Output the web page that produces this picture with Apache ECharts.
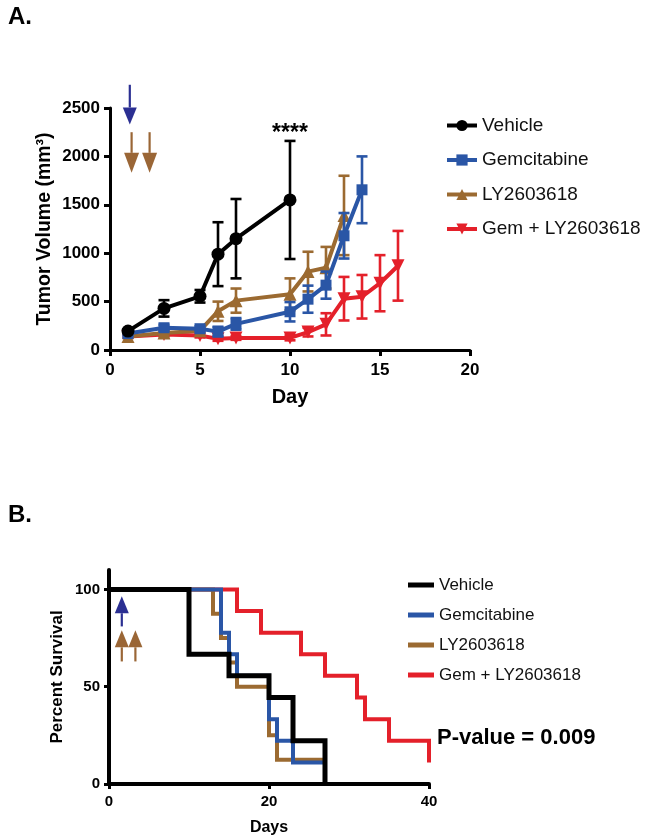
<!DOCTYPE html>
<html><head><meta charset="utf-8">
<script src="https://cdn.jsdelivr.net/npm/echarts@6/dist/echarts.min.js"></script>
<style>html,body{margin:0;padding:0;background:#fff}#c{width:648px;height:840px}</style>
</head><body><div id="c"></div>
<script>
// ---------- data ----------
const groups = ['Vehicle', 'Gemcitabine', 'LY2603618', 'Gem + LY2603618'];
const colors = ['#000000', '#2a56a6', '#9b6a31', '#e4202a'];

// Panel A: tumor volume (mean, SEM)
const vehicleDays = [1, 3, 5, 6, 7, 10];
const vehicleMean = [195, 430, 555, 990, 1150, 1550];
const vehicleSem  = [20, 85, 65, 330, 410, 610];

const gemDays = [1, 3, 5, 6, 7, 10, 11, 12, 13, 14];
const gemMean = [170, 230, 220, 190, 270, 395, 525, 670, 1180, 1655];
const gemSem  = [20, 30, 25, 50, 60, 100, 140, 140, 235, 345];

const lyDays = [1, 3, 5, 6, 7, 10, 11, 12, 13];
const lyMean = [140, 175, 200, 400, 510, 575, 810, 850, 1390];
const lySem  = [15, 25, 20, 100, 125, 165, 205, 215, 410];

const comboDays = [1, 3, 5, 6, 7, 10, 11, 12, 13, 14, 15, 16];
const comboMean = [140, 160, 150, 115, 125, 125, 185, 265, 530, 550, 690, 870];
const comboSem  = [15, 20, 20, 20, 20, 25, 45, 115, 225, 225, 290, 360];

// Panel B: Kaplan-Meier survival
const survVehicleDays = [0, 10, 15, 20, 23, 27];
const survVehicle     = [100, 66.7, 55.6, 44.4, 22.2, 0];
const survGemDays = [0, 14, 15, 16, 20, 21, 23, 27];
const survGem     = [100, 77.8, 66.7, 55.6, 33.3, 22.2, 11.1, 11.1];
const survLyDays = [0, 13, 14, 15, 16, 20, 21, 27];
const survLy     = [100, 87.5, 75, 62.5, 50, 25, 12.5, 12.5];
const survComboDays = [0, 16, 19, 24, 27, 31, 32, 35, 40];
const survCombo     = [100, 88.9, 77.8, 66.7, 55.6, 44.4, 33.3, 22.2, 11.1];

// ticks
const volumeTicks = [0, 500, 1000, 1500, 2000, 2500];
const dayTicks = [0, 5, 10, 15, 20];
const survivalTicks = [0, 50, 100];
const survDayTicks = [0, 20, 40];

// dosing arrows (data units)
const arrowsA = [
  {x: 1.1, from: 2740, to: 2330, c: '#2b2f92'},
  {x: 1.2, from: 2250, to: 1830, c: '#9a6636'},
  {x: 2.2, from: 2250, to: 1830, c: '#9a6636'}
];
const arrowsB = [
  {x: 1.6, from: 81, to: 96.5, c: '#2b2f92'},
  {x: 1.6, from: 63, to: 79, c: '#9a6636'},
  {x: 3.3, from: 63, to: 79, c: '#9a6636'}
];

// ---------- chart ----------
const FONT = 'Liberation Sans, Arial, Helvetica, sans-serif';
const chart = echarts.init(document.getElementById('c'), null, {renderer: 'canvas'});

const zip = (a, b) => a.map((v, i) => [v, b[i]]);
const errData = (d, m, s) => d.map((v, i) => [v, m[i] - s[i], m[i] + s[i]]);
const plain = v => String(v);

function errRender(color) {
  return function (params, api) {
    const x = api.value(0), lo = api.value(1), hi = api.value(2);
    const p1 = api.coord([x, hi]), p2 = api.coord([x, lo]);
    const hw = 5.5, st = {stroke: color, lineWidth: 2.6};
    return {type: 'group', children: [
      {type: 'line', shape: {x1: p1[0], y1: p1[1], x2: p2[0], y2: p2[1]}, style: st},
      {type: 'line', shape: {x1: p1[0] - hw, y1: p1[1], x2: p1[0] + hw, y2: p1[1]}, style: st},
      {type: 'line', shape: {x1: p2[0] - hw, y1: p2[1], x2: p2[0] + hw, y2: p2[1]}, style: st}
    ]};
  };
}

const tumor = [
  {d: vehicleDays, m: vehicleMean, s: vehicleSem, sym: 'circle', size: 13, rot: 0},
  {d: gemDays, m: gemMean, s: gemSem, sym: 'rect', size: 11, rot: 0},
  {d: lyDays, m: lyMean, s: lySem, sym: 'triangle', size: 13, rot: 0},
  {d: comboDays, m: comboMean, s: comboSem, sym: 'triangle', size: 13, rot: 180}
];
const surv = [
  {d: survVehicleDays, v: survVehicle, w: 5},
  {d: survGemDays, v: survGem, w: 4},
  {d: survLyDays, v: survLy, w: 4},
  {d: survComboDays, v: survCombo, w: 4}
];

const series = [];
// draw order: combo, LY, Gem, Vehicle (vehicle on top)
[3, 2, 1, 0].forEach(i => {
  const t = tumor[i];
  series.push({
    type: 'custom', name: 'err' + i, xAxisIndex: 0, yAxisIndex: 0,
    renderItem: errRender(colors[i]), data: errData(t.d, t.m, t.s),
    encode: {x: 0, y: [1, 2]}, z: 2 + (3 - i) * 2, silent: true
  });
  series.push({
    type: 'line', name: groups[i], xAxisIndex: 0, yAxisIndex: 0,
    data: zip(t.d, t.m), symbol: t.sym, symbolSize: t.size, symbolRotate: t.rot,
    showSymbol: true, lineStyle: {width: 4, color: colors[i]},
    itemStyle: {color: colors[i]}, z: 3 + (3 - i) * 2, animation: false
  });
});
[3, 2, 1, 0].forEach(i => {
  const s = surv[i];
  series.push({
    type: 'line', name: 'S:' + groups[i], xAxisIndex: 1, yAxisIndex: 1,
    data: zip(s.d, s.v), step: 'end', symbol: 'none',
    lineStyle: {width: s.w, color: colors[i], join: 'miter'},
    itemStyle: {color: colors[i]}, z: 3 + (3 - i), animation: false
  });
});

const axisCommon = (lw) => ({
  type: 'value',
  axisLine: {show: true, onZero: false, lineStyle: {color: '#000', width: lw}},
  splitLine: {show: false},
  nameLocation: 'middle',
  nameMoveOverlap: false
});

const option = {
  animation: false,
  backgroundColor: '#fff',
  textStyle: {fontFamily: FONT},
  grid: [
    {left: 110, top: 108, width: 360, height: 242},
    {left: 109, top: 570, width: 320, height: 214}
  ],
  xAxis: [
    Object.assign(axisCommon(3), {
      gridIndex: 0, min: 0, max: 20, interval: 5,
      axisLabel: {margin: 12, fontSize: 17, fontWeight: 'bold', color: '#000', fontFamily: FONT,
        customValues: dayTicks, formatter: plain},
      axisTick: {show: true, length: 6, lineStyle: {color: '#000', width: 3}, customValues: dayTicks},
      name: 'Day', nameGap: 37,
      nameTextStyle: {fontSize: 20, fontWeight: 'bold', color: '#000', fontFamily: FONT}
    }),
    Object.assign(axisCommon(4), {
      gridIndex: 1, min: 0, max: 40, interval: 20,
      axisLabel: {margin: 10, fontSize: 15, fontWeight: 'bold', color: '#000', fontFamily: FONT,
        customValues: survDayTicks, formatter: plain},
      axisTick: {show: true, length: 5, lineStyle: {color: '#000', width: 3}, customValues: survDayTicks},
      name: 'Days', nameGap: 36,
      nameTextStyle: {fontSize: 16, fontWeight: 'bold', color: '#000', fontFamily: FONT}
    })
  ],
  yAxis: [
    Object.assign(axisCommon(3), {
      gridIndex: 0, min: 0, max: 2500, interval: 500,
      axisLabel: {margin: 10, fontSize: 17, fontWeight: 'bold', color: '#000', fontFamily: FONT,
        customValues: volumeTicks, formatter: plain},
      axisTick: {show: true, length: 6, lineStyle: {color: '#000', width: 3}, customValues: volumeTicks},
      name: 'Tumor Volume (mm³)', nameGap: 55, nameRotate: 90,
      nameTextStyle: {fontSize: 19.5, fontWeight: 'bold', color: '#000', fontFamily: FONT}
    }),
    Object.assign(axisCommon(4), {
      gridIndex: 1, min: 0, max: 110, interval: 50,
      axisLabel: {margin: 9, fontSize: 15, fontWeight: 'bold', color: '#000', fontFamily: FONT,
        customValues: survivalTicks, formatter: plain},
      axisTick: {show: true, length: 5, lineStyle: {color: '#000', width: 3}, customValues: survivalTicks},
      name: 'Percent Survival', nameGap: 43, nameRotate: 90,
      nameTextStyle: {fontSize: 17, fontWeight: 'bold', color: '#000', fontFamily: FONT}
    })
  ],
  legend: [
    {
      data: groups, orient: 'vertical', left: 440, top: 110.5,
      itemWidth: 30, itemHeight: 14, itemGap: 14.5,
      lineStyle: {width: 4},
      textStyle: {fontSize: 19, color: '#111', fontFamily: FONT, lineHeight: 20},
      selectedMode: false
    },
    {
      data: groups.map(g => 'S:' + g), orient: 'vertical', left: 403, top: 571,
      itemWidth: 26, itemHeight: 5, itemGap: 12, icon: 'rect',
      formatter: n => n.slice(2),
      textStyle: {fontSize: 17, color: '#111', fontFamily: FONT, lineHeight: 18},
      selectedMode: false
    }
  ],
  series: series
};
chart.setOption(option);

// ---------- annotations ----------
function arrow(p0, p1, color, headLen, headW, shaft) {
  const dx = p1[0] - p0[0], dy = p1[1] - p0[1];
  const L = Math.hypot(dx, dy), ux = dx / L, uy = dy / L;
  const bx = p1[0] - ux * headLen, by = p1[1] - uy * headLen;
  const px = -uy * headW / 2, py = ux * headW / 2;
  return [
    {type: 'line', shape: {x1: p0[0], y1: p0[1], x2: bx, y2: by}, style: {stroke: color, lineWidth: shaft}, z: 20},
    {type: 'polygon', shape: {points: [[p1[0], p1[1]], [bx + px, by + py], [bx - px, by - py]]},
      style: {fill: color}, z: 20}
  ];
}
const g = [];
arrowsA.forEach((a, i) => {
  const p0 = chart.convertToPixel({gridIndex: 0}, [a.x, a.from]);
  const p1 = chart.convertToPixel({gridIndex: 0}, [a.x, a.to]);
  g.push(...arrow(p0, p1, a.c, i === 0 ? 17 : 20, i === 0 ? 14 : 15, 2.2));
});
arrowsB.forEach((a, i) => {
  const p0 = chart.convertToPixel({gridIndex: 1}, [a.x, a.from]);
  const p1 = chart.convertToPixel({gridIndex: 1}, [a.x, a.to]);
  g.push(...arrow(p0, p1, a.c, 17, 14, 2.2));
});
const star = chart.convertToPixel({gridIndex: 0}, [10, 2240]);
g.push({type: 'text', x: star[0], y: star[1], z: 20,
  style: {text: '****', font: 'bold 23px ' + FONT, fill: '#000', align: 'center', verticalAlign: 'middle'}});
g.push({type: 'text', left: 8, top: 5, z: 20,
  style: {text: 'A.', font: 'bold 24px ' + FONT, fill: '#000'}});
g.push({type: 'text', left: 8, top: 503, z: 20,
  style: {text: 'B.', font: 'bold 24px ' + FONT, fill: '#000'}});
g.push({type: 'text', left: 437, top: 727, z: 20,
  style: {text: 'P-value = 0.009', font: 'bold 22px ' + FONT, fill: '#000'}});
chart.setOption({graphic: g});
</script>
</body></html>
